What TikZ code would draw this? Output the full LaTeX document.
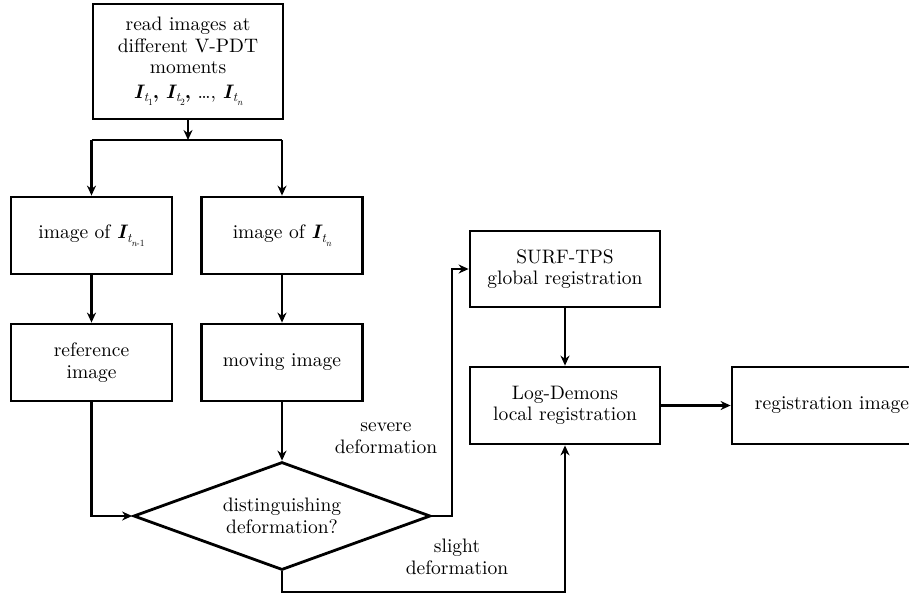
\documentclass[tikz,border=0pt]{standalone}
\usepackage{fontspec}
\setmainfont{lmroman10-regular.otf}[BoldFont=lmroman10-bold.otf,ItalicFont=lmroman10-italic.otf,BoldItalicFont=lmroman10-bolditalic.otf]
\usetikzlibrary{arrows.meta,shapes.geometric}
\newcommand{\bI}[1]{{\bfseries\itshape I}\kern1pt\raisebox{-0.45ex}{\fontsize{13}{14}\selectfont\itshape t}\raisebox{-0.9ex}{\fontsize{9.5}{10}\selectfont #1}}
\begin{document}
\begin{tikzpicture}[x=1pt,y=-1pt,
  every node/.style={font=\fontsize{19.5}{21.5}\selectfont},
  box/.style={draw,line width=2.8pt,minimum width=#1,minimum height=77pt,inner sep=2pt,align=center},
  box/.default=161pt,
  link/.style={line width=2.8pt},
  arr/.style={line width=2.8pt,-{Stealth[length=10pt,width=9pt]}},
  lbl/.style={align=center}]
\useasboundingbox (0,0) rectangle (909,595);
\node[box=190pt,minimum height=115pt] (top) at (188,61.5) {read images at\\different V-PDT\\moments\\[3pt]\bI{1}\textbf{,} \bI{2}\textbf{,} \ldots, \bI{\itshape n}};
\coordinate (j) at (188,140);
\node[box] (img1) at (91.5,235.5) {image of \bI{\itshape n\upshape{-1}}};
\node[box] (img2) at (282,235.5) {image of \bI{\itshape n}};
\node[box] (ref) at (91.5,362.5) {reference\\image};
\node[box] (mov) at (282,362.5) {moving image};
\node[draw,line width=2.8pt,shape=diamond,shape aspect=2.75,minimum width=297pt,minimum height=108pt,inner sep=0pt,align=center] (dia) at (282,516) {distinguishing\\deformation?};
\node[box=190pt,minimum height=76pt] (surf) at (565,269) {SURF-TPS\\global registration};
\node[box=190pt] (log) at (565,405.5) {Log-Demons\\local registration};
\node[box=200pt] (reg) at (832,405.5) {registration image};
\coordinate (c1) at (452,516);
\coordinate (c2) at (282,592);
\node[lbl] (sev) at (386,438) {severe\\deformation};
\node[lbl] (sli) at (457,557) {slight\\deformation};
\draw[arr] (top.south) -- (j);
\draw[link] (img1.north |- j) -- (img2.north |- j);
\draw[arr] (img1.north |- j) -- (img1.north);
\draw[arr] (img2.north |- j) -- (img2.north);
\draw[arr] (img1) -- (ref);
\draw[arr] (img2) -- (mov);
\draw[arr] (mov) -- (dia.north);
\draw[arr] (ref.south) |- (dia.west);
\draw[arr] (dia.east) -- (c1) |- (surf.west);
\draw[arr] (surf) -- (log);
\draw[arr] (dia.south) -- (c2) -| (log.south);
\draw[arr] (log) -- (reg);
\end{tikzpicture}
\end{document}
